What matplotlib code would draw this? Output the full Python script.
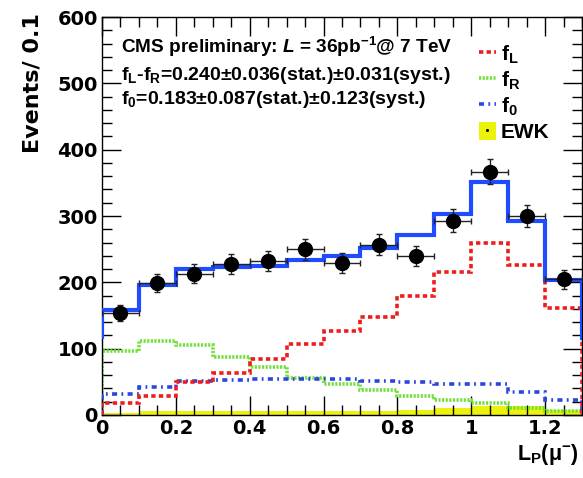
import numpy as np
import matplotlib
matplotlib.use("Agg")
import matplotlib.pyplot as plt
from matplotlib.lines import Line2D
from matplotlib.patches import Patch

plt.rcParams['font.family'] = ['Liberation Sans', 'DejaVu Sans']
plt.rcParams['font.weight'] = 'bold'
plt.rcParams['mathtext.fontset'] = 'custom'
plt.rcParams['mathtext.rm'] = 'Liberation Sans:bold'
plt.rcParams['mathtext.bf'] = 'Liberation Sans:bold'
plt.rcParams['mathtext.it'] = 'Liberation Sans:bold:italic'

# Bin edges of L_P (width 0.1)
edges = np.round(np.arange(0.0, 1.31, 0.1), 2)
centers = (edges[:-1] + edges[1:]) / 2

# Observed events per bin
data = [154, 199, 213, 228, 232, 250, 229, 257, 240, 293, 367, 300, 205]

# Fitted templates
f_L = [18, 29, 50, 64, 84, 107, 127, 147, 180, 215, 260, 226, 161]
f_R = [97, 112, 105, 87, 72, 56, 47, 38, 28, 22, 18, 11, 6]
f_0 = [32, 42, 51, 53, 55, 55, 54, 52, 49, 47, 47, 34, 22]
ewk = [3, 6, 6, 6, 6, 6, 6, 6, 7, 10, 14, 14, 8]

# Total fit, including the neighbouring bins just outside the plotted range
total_edges = np.round(np.arange(-0.1, 1.41, 0.1), 2)
total = [118, 158, 196, 220, 223, 225, 233, 240, 252, 271, 303, 351, 293, 204, 116]

RED, GREEN, BLUE_D, BLUE, YELLOW = '#ee1c1c', '#72e03a', '#2a45e0', '#1f4cff', '#ecf20c'
LS_L = (0, (1.2, 0.9))
LS_R = (0, (0.6, 0.4))
LS_0 = (0, (1.4, 1.2, 0.5, 1.2))
AXIS_FONT = 'DejaVu Sans'

fig = plt.figure(figsize=(5.83, 4.78), dpi=100)
ax = fig.add_axes([0.175, 0.1318, 0.8233, 0.8326])

ax.stairs(ewk, edges, fill=True, color=YELLOW, lw=0, zorder=1)
ax.stairs(f_R, edges, color=GREEN, lw=2.6, linestyle=LS_R, zorder=2)
ax.stairs(f_0, edges, color=BLUE_D, lw=2.6, linestyle=LS_0, zorder=3)
ax.stairs(f_L, edges, color=RED, lw=2.6, linestyle=LS_L, zorder=4)
ax.stairs(total, total_edges, color=BLUE, lw=3.0, zorder=5)

yerr = np.sqrt(data)
ax.errorbar(centers, data, xerr=0.05, yerr=yerr, fmt='o', color='black',
            ecolor='#222222', elinewidth=1.0, capsize=2.5, capthick=1.0,
            markersize=10, zorder=6)

ax.set_xlim(0, 1.3)
ax.set_ylim(0, 600)
ax.set_xticks(np.arange(0, 1.21, 0.2))
ax.set_xticklabels(['0', '0.2', '0.4', '0.6', '0.8', '1', '1.2'])
ax.set_xticks(np.arange(0, 1.31, 0.05), minor=True)
ax.set_yticks(np.arange(0, 601, 100))
ax.set_yticks(np.arange(0, 601, 20), minor=True)
ax.tick_params(which='both', direction='in', top=True, right=True, width=1.0,
               labelsize=14)
ax.tick_params(which='major', length=14, pad=3)
ax.tick_params(which='minor', length=7)
for lab in ax.get_xticklabels() + ax.get_yticklabels():
    lab.set_fontweight('bold')
    lab.set_family(AXIS_FONT)
for sp in ax.spines.values():
    sp.set_linewidth(1.0)

fig.text(0.056, 0.973, 'Events/ 0.1', rotation=90, ha='center', va='top',
         fontsize=16, fontweight='bold', family=AXIS_FONT)
fig.text(0.993, 0.022, r'L$_{\mathrm{P}}$(μ$^{\mathrm{-}}$)', ha='right', va='bottom',
         fontsize=15.5, fontweight='bold')

ax.text(0.04, 0.925, r'CMS preliminary: $L$ = 36pb$^{\mathrm{-1}}$@ 7 TeV',
        transform=ax.transAxes, fontsize=13.7, fontweight='bold', va='center')
ax.text(0.04, 0.854, r'f$_{\mathrm{L}}$-f$_{\mathrm{R}}$=0.240±0.036(stat.)±0.031(syst.)',
        transform=ax.transAxes, fontsize=14, fontweight='bold', va='center')
ax.text(0.04, 0.793, r'f$_{\mathrm{0}}$=0.183±0.087(stat.)±0.123(syst.)',
        transform=ax.transAxes, fontsize=14, fontweight='bold', va='center')

handles = [
    Line2D([], [], color=RED, lw=2.6, linestyle=LS_L),
    Line2D([], [], color=GREEN, lw=2.6, linestyle=LS_R),
    Line2D([], [], color=BLUE_D, lw=2.6, linestyle=LS_0),
    (Patch(facecolor=YELLOW, edgecolor='none'),
     Line2D([], [], marker='o', color='black', markersize=1.2, linestyle='none')),
]
labels = [r'f$_{\mathrm{L}}$', r'f$_{\mathrm{R}}$', r'f$_{\mathrm{0}}$', 'EWK']
ax.legend(handles, labels, loc='upper left', bbox_to_anchor=(0.755, 0.97),
          frameon=False, prop={'size': 15, 'weight': 'bold'},
          handlelength=0.8, handleheight=1.0, handletextpad=0.25,
          labelspacing=0.18, borderpad=0.2)

fig.savefig('out.png', dpi=100)
